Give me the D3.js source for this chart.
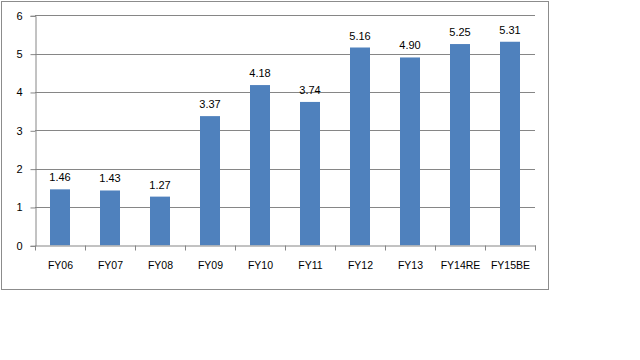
<!DOCTYPE html>
<html><head><meta charset="utf-8">
<script src="https://cdn.jsdelivr.net/npm/d3@7"></script>
<style>body{margin:0;background:#fff}svg{display:block}text{font-family:"Liberation Sans",Arial,sans-serif;}</style>
</head><body>
<svg id="c" width="640" height="360"></svg>
<script>
const categories = ["FY06","FY07","FY08","FY09","FY10","FY11","FY12","FY13","FY14RE","FY15BE"];
const values = [1.46,1.43,1.27,3.37,4.18,3.74,5.16,4.90,5.25,5.31];
const yTicks = [0,1,2,3,4,5,6];

(function(){
const svg = d3.select("#c");
svg.append("rect").attr("x",1.5).attr("y",1.5).attr("width",547).attr("height",288)
  .attr("fill","#fff").attr("stroke","#8c8c8c").attr("stroke-width",1);

const pl = 35, pr = 535, pt = 15.3, pb = 245.3;
const x = d3.scaleBand().domain(categories).range([pl,pr]).paddingInner(0.6).paddingOuter(0.3);
const xb = d3.scaleBand().domain(categories).range([pl,pr]);
const y = d3.scaleLinear().domain([0,6]).range([pb,pt]);

// gridlines
svg.append("g").selectAll("line").data(yTicks.filter(d=>d>0)).join("line")
  .attr("x1",pl).attr("x2",pr).attr("y1",d=>Math.round(y(d))+0.5).attr("y2",d=>Math.round(y(d))+0.5)
  .attr("stroke","#868686");

// y axis
const yAxis = d3.axisLeft(y).tickValues(yTicks).tickSize(5).tickPadding(8).tickFormat(d3.format("d"));
const gy = svg.append("g").attr("transform",`translate(${pl+0.5},0.5)`).call(yAxis);
gy.select(".domain").attr("stroke","#868686");
gy.selectAll(".tick line").attr("stroke","#868686");
gy.selectAll("text").attr("font-size",11).attr("fill","#000");

// bars
svg.append("g").selectAll("rect").data(values).join("rect")
  .attr("x",(d,i)=>x(categories[i])).attr("width",x.bandwidth())
  .attr("y",d=>y(d)).attr("height",d=>y(0)-y(d)).attr("fill","#4F81BD");

// x axis
const gx = svg.append("g").attr("transform",`translate(0.5,${Math.round(y(0))+0.5})`)
  .call(d3.axisBottom(xb).tickSize(0).tickPadding(16));
gx.select(".domain").attr("stroke","#868686");
gx.selectAll("text").attr("font-size",10.5).attr("fill","#000");
gx.selectAll(".bt").data(categories.concat(["end"])).join("line").attr("class","bt")
  .attr("x1",(d,i)=>pl+i*xb.step()).attr("x2",(d,i)=>pl+i*xb.step()).attr("y1",0).attr("y2",5)
  .attr("stroke","#868686");

// labels
svg.append("g").selectAll("text").data(values).join("text")
  .attr("x",(d,i)=>x(categories[i])+x.bandwidth()/2).attr("y",d=>y(d)-8)
  .attr("text-anchor","middle").attr("font-size",11).attr("fill","#000")
  .text(d=>d.toFixed(2));
})();
</script>
</body></html>
